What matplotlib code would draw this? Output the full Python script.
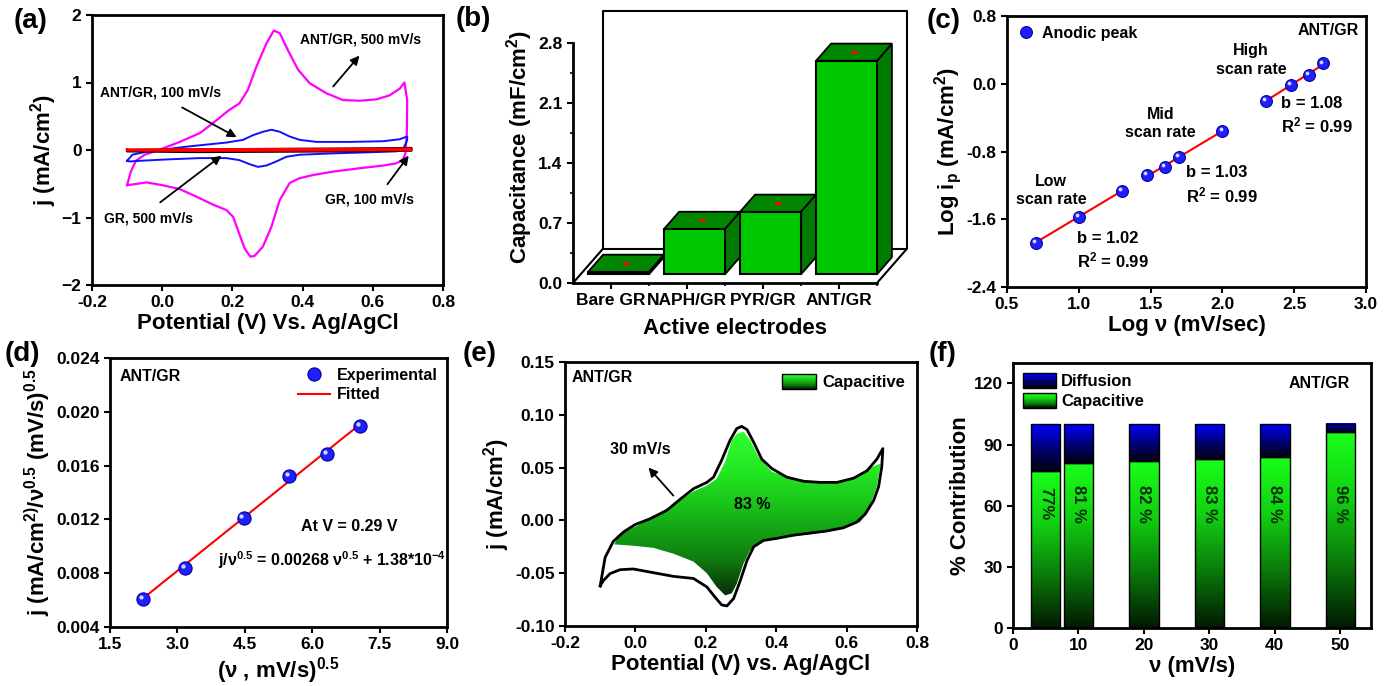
import numpy as np
import matplotlib
matplotlib.use("Agg")
import matplotlib.pyplot as plt
from matplotlib.colors import LinearSegmentedColormap
from matplotlib.patches import Polygon, Rectangle, Patch
from matplotlib.legend_handler import HandlerBase
from matplotlib.transforms import offset_copy

plt.rcParams["font.family"] = ["Liberation Sans", "DejaVu Sans"]
plt.rcParams["font.weight"] = "bold"
plt.rcParams["axes.labelweight"] = "bold"
plt.rcParams["mathtext.fontset"] = "custom"
plt.rcParams["mathtext.rm"] = "Liberation Sans:bold"
plt.rcParams["mathtext.bf"] = "Liberation Sans:bold"
plt.rcParams["mathtext.it"] = "Liberation Sans:bold:italic"
plt.rcParams["mathtext.default"] = "bf"
plt.rcParams["axes.linewidth"] = 2
for a in ("xtick", "ytick"):
    plt.rcParams[a + ".direction"] = "out"
    plt.rcParams[a + ".major.width"] = 1.5
    plt.rcParams[a + ".major.size"] = 4
    plt.rcParams[a + ".minor.width"] = 1.2
    plt.rcParams[a + ".minor.size"] = 2.5
    plt.rcParams[a + ".labelsize"] = 12.5

# ---------------- data ----------------
# (a) CV curves
V_ant500 = [-0.10, -0.09, -0.075, -0.05, 0.0, 0.05, 0.107, 0.145, 0.19, 0.22, 0.244, 0.268, 0.297,
            0.318, 0.335, 0.358, 0.387, 0.42, 0.468, 0.515, 0.563, 0.61, 0.648, 0.677, 0.69, 0.698,
            0.697, 0.693, 0.685, 0.665, 0.63, 0.563, 0.487, 0.43, 0.39, 0.363, 0.335, 0.311, 0.287,
            0.263, 0.251, 0.235, 0.216, 0.202, 0.183, 0.145, 0.097, 0.05, 0.0, -0.045, -0.083, -0.10]
j_ant500 = [-0.52, -0.33, -0.16, -0.07, 0.02, 0.12, 0.25, 0.40, 0.59, 0.69, 0.89, 1.23, 1.58,
            1.77, 1.73, 1.48, 1.19, 0.99, 0.84, 0.74, 0.73, 0.75, 0.81, 0.91, 1.00, 0.74,
            0.25, -0.05, -0.15, -0.20, -0.23, -0.27, -0.32, -0.37, -0.42, -0.49, -0.74, -1.14, -1.43,
            -1.57, -1.58, -1.46, -1.19, -0.99, -0.89, -0.81, -0.69, -0.58, -0.52, -0.48, -0.51, -0.52]
V_ant100 = [-0.10, -0.085, -0.04, 0.01, 0.07, 0.126, 0.183, 0.23, 0.259, 0.287, 0.311, 0.335, 0.363,
            0.392, 0.44, 0.535, 0.63, 0.677, 0.698, 0.698, 0.687, 0.668, 0.582, 0.487, 0.392, 0.354,
            0.325, 0.297, 0.273, 0.249, 0.22, 0.183, 0.107, 0.012, -0.064, -0.093, -0.10]
j_ant100 = [-0.16, -0.07, -0.02, 0.01, 0.05, 0.08, 0.11, 0.15, 0.22, 0.27, 0.30, 0.27, 0.20,
            0.15, 0.12, 0.12, 0.13, 0.16, 0.20, 0.15, 0.02, -0.02, -0.035, -0.05, -0.07, -0.10,
            -0.17, -0.23, -0.25, -0.21, -0.15, -0.12, -0.12, -0.14, -0.16, -0.17, -0.16]
V_gr500 = [-0.10, 0.10, 0.30, 0.50, 0.71, 0.71, 0.50, 0.30, 0.10, -0.10, -0.10]
j_gr500 = [0.00, 0.01, 0.015, 0.02, 0.03, -0.01, -0.02, -0.025, -0.03, -0.02, 0.00]
V_gr100 = [-0.10, 0.10, 0.30, 0.50, 0.71, 0.71, 0.50, 0.30, 0.10, -0.10, -0.10]
j_gr100 = [0.005, 0.01, 0.012, 0.015, 0.02, 0.0, -0.005, -0.008, -0.01, -0.005, 0.005]

# (b) capacitance
electrodes = ["Bare GR", "NAPH/GR", "PYR/GR", "ANT/GR"]
capacitance = [0.03, 0.53, 0.73, 2.49]

# (c) log ip vs log v
logv_low = [0.699, 1.0, 1.301]
logi_low = [-1.876, -1.57, -1.265]
logv_mid = [1.477, 1.602, 1.699, 2.0]
logi_mid = [-1.08, -0.98, -0.86, -0.556]
logv_high = [2.301, 2.477, 2.602, 2.699]
logi_high = [-0.20, -0.016, 0.10, 0.24]

# (d) j/v^0.5 vs v^0.5
sqrt_v = [2.236, 3.162, 4.472, 5.477, 6.325, 7.071]
j_norm = [0.00611, 0.00835, 0.01212, 0.01523, 0.01687, 0.01891]
fit_slope = 0.00268
fit_icpt = 1.38e-4

# (e) CV at 30 mV/s and capacitive part
Ve_tot = [-0.10, -0.086, -0.063, -0.034, -0.001, 0.042, 0.089, 0.127, 0.165, 0.203, 0.222, 0.245,
          0.269, 0.288, 0.302, 0.317, 0.336, 0.359, 0.388, 0.430, 0.478, 0.525, 0.573, 0.620, 0.658,
          0.686, 0.703, 0.700, 0.691, 0.677, 0.653, 0.629, 0.591, 0.544, 0.497, 0.449, 0.402, 0.364,
          0.336, 0.317, 0.298, 0.279, 0.260, 0.245, 0.227, 0.203, 0.165, 0.108, 0.051, -0.006,
          -0.044, -0.072, -0.091, -0.10]
je_tot = [-0.062, -0.035, -0.020, -0.011, -0.004, 0.0016, 0.0095, 0.020, 0.030, 0.036, 0.041, 0.057,
          0.076, 0.087, 0.089, 0.086, 0.074, 0.058, 0.049, 0.041, 0.037, 0.036, 0.036, 0.040, 0.047,
          0.058, 0.068, 0.051, 0.032, 0.019, 0.006, -0.0016, -0.007, -0.010, -0.012, -0.014, -0.017,
          -0.019, -0.025, -0.038, -0.057, -0.074, -0.081, -0.080, -0.073, -0.063, -0.055, -0.053,
          -0.0495, -0.046, -0.0467, -0.0504, -0.057, -0.062]
Vc_up = [-0.06, -0.044, -0.001, 0.042, 0.089, 0.127, 0.165, 0.203, 0.231, 0.255, 0.274, 0.288,
         0.307, 0.326, 0.35, 0.388, 0.449, 0.544, 0.62, 0.668, 0.698]
jc_up = [-0.0227, -0.0126, -0.006, 0.0016, 0.011, 0.019, 0.0275, 0.033, 0.0395, 0.0555, 0.076, 0.082,
         0.084, 0.076, 0.060, 0.046, 0.0395, 0.036, 0.0395, 0.050, 0.054]
Vc_lo = [0.697, 0.686, 0.663, 0.639, 0.544, 0.449, 0.355, 0.326, 0.307, 0.288, 0.274, 0.255, 0.231,
         0.203, 0.165, 0.108, 0.051, -0.006, -0.06]
jc_lo = [0.054, 0.032, 0.011, -0.0016, -0.011, -0.015, -0.020, -0.028, -0.041, -0.060, -0.069,
         -0.071, -0.063, -0.050, -0.039, -0.0315, -0.026, -0.024, -0.0227]

# (f) contributions
scan_rates = [5, 10, 20, 30, 40, 50]
capacitive = [77, 81, 82, 83, 84, 96]
cap_labels = ["77%", "81 %", "82 %", "83 %", "84 %", "96 %"]

# ---------------- helpers ----------------
W, H = 1396, 686
fig = plt.figure(figsize=(W / 100, H / 100), dpi=100)


def add_ax(l, t, r, b):
    return fig.add_axes([l / W, 1 - b / H, (r - l) / W, (b - t) / H])


def letter(x, y, s):
    fig.text(x / W, 1 - y / H, s, fontsize=20, fontweight="bold", va="top", ha="left")


def spheres(ax, x, y, ms, label=None):
    ax.plot(x, y, "o", ms=ms, mfc="#2020ff", mec="#0000a0", mew=0.8, ls="none", label=label, zorder=4)
    tr = offset_copy(ax.transData, fig=fig, x=-ms * 0.16, y=ms * 0.16, units="points")
    ax.plot(x, y, "o", ms=ms * 0.32, mfc="#d8d8ff", mec="none", ls="none", transform=tr, zorder=5)


green_cm = LinearSegmentedColormap.from_list("g", ["#021802", "#0a7a0a", "#12d012", "#1aff1a"])
green_e = LinearSegmentedColormap.from_list("ge", ["#072407", "#0f7f0f", "#17b517", "#22e622", "#30ff30"])
blue_cm = LinearSegmentedColormap.from_list("b", ["#000010", "#00007a", "#0000ff"])
grad = np.linspace(0, 1, 256).reshape(-1, 1)


class GradHandler(HandlerBase):
    def __init__(self, cmap):
        super().__init__()
        self.cmap = cmap

    def create_artists(self, legend, orig_handle, xdescent, ydescent, width, height, fontsize, trans):
        arts = []
        n = 16
        for k in range(n):
            arts.append(Rectangle((-xdescent, -ydescent + k * height / n), width, height / n,
                                  facecolor=self.cmap(k / (n - 1)), lw=0, transform=trans))
        arts.append(Rectangle((-xdescent, -ydescent), width, height, fill=False,
                              edgecolor="black", lw=1, transform=trans))
        return arts


# ---------------- (a) ----------------
ax = add_ax(92, 15, 443, 285)
ax.plot(V_ant500, j_ant500, color="#ff00ff", lw=1.6)
ax.plot(V_ant100, j_ant100, color="#1010ff", lw=1.4)
ax.plot(V_gr500, j_gr500, color="black", lw=1.6)
ax.plot(V_gr100, j_gr100, color="red", lw=1.8)
ax.set_xlim(-0.2, 0.8)
ax.set_ylim(-2, 2)
ax.set_xticks(np.arange(-0.2, 0.81, 0.2))
ax.set_xticklabels(["-0.2", "0.0", "0.2", "0.4", "0.6", "0.8"])
ax.set_yticks([-2, -1, 0, 1, 2])
ax.set_xlabel("Potential (V) Vs. Ag/AgCl", fontsize=16, labelpad=2)
ax.set_ylabel("j (mA/cm$^{2}$)", fontsize=16, labelpad=2)
arw = dict(arrowstyle="-|>", color="black", lw=1.3, mutation_scale=13)
ax.text(0.392, 1.64, "ANT/GR, 500 mV/s", fontsize=10, va="center")
ax.annotate("", xy=(0.567, 1.43), xytext=(0.482, 0.91), arrowprops=arw)
ax.text(-0.178, 0.85, "ANT/GR, 100 mV/s", fontsize=10, va="center")
ax.annotate("", xy=(0.219, 0.17), xytext=(0.05, 0.65), arrowprops=arw)
ax.text(-0.166, -1.01, "GR, 500 mV/s", fontsize=10, va="center")
ax.annotate("", xy=(0.175, -0.06), xytext=(-0.012, -0.80), arrowprops=arw)
ax.text(0.463, -0.74, "GR, 100 mV/s", fontsize=10, va="center")
ax.annotate("", xy=(0.707, -0.05), xytext=(0.637, -0.54), arrowprops=arw)
letter(14, 8, "(a)")

# ---------------- (b) ----------------
ax = add_ax(573, 11, 907, 283)
DX, DY = 0.395, 0.40
f0, f1 = 0.25, 0.75
bw = 0.8
xs = np.arange(len(electrodes))
top_y = 3.17
ax.set_xlim(-0.5, 3.5 + DX)
ax.set_ylim(0, top_y)
# floor and back wall
ax.plot([-0.5, -0.5 + DX, -0.5 + DX, 3.5 + DX, 3.5 + DX, 3.5],
        [0, DY, top_y, top_y, DY, 0], color="black", lw=1.5, clip_on=False, zorder=1)
ax.plot([-0.5 + DX, 3.5 + DX], [DY, DY], color="black", lw=1.5, zorder=1)
for i, v in zip(xs, capacitance):
    x0 = i - bw / 2
    x1 = i + bw / 2
    side = [(x1 + f0 * DX, f0 * DY), (x1 + f1 * DX, f1 * DY), (x1 + f1 * DX, f1 * DY + v),
            (x1 + f0 * DX, f0 * DY + v)]
    ax.add_patch(Polygon(side, closed=True, facecolor="#007a00", edgecolor="black", lw=1.3, zorder=2))
    top = [(x0 + f0 * DX, f0 * DY + v), (x1 + f0 * DX, f0 * DY + v), (x1 + f1 * DX, f1 * DY + v),
           (x0 + f1 * DX, f1 * DY + v)]
    ax.add_patch(Polygon(top, closed=True, facecolor="#008600", edgecolor="black", lw=1.3, zorder=2))
ax.bar(xs + f0 * DX, capacitance, width=bw, bottom=f0 * DY, color="#00c800",
       edgecolor="black", lw=1.5, zorder=3)
ax.plot(xs + 0.5 * DX, np.array(capacitance) + 0.5 * DY, ls="none", marker="_", ms=5, mew=2,
        color="red", zorder=4)
ax.spines["top"].set_visible(False)
ax.spines["right"].set_visible(False)
ax.spines["bottom"].set_bounds(-0.5, 3.5)
ax.spines["left"].set_bounds(0, 2.8)
ax.set_yticks([0, 0.7, 1.4, 2.1, 2.8])
ax.set_yticklabels(["0.0", "0.7", "1.4", "2.1", "2.8"])
ax.set_yticks(np.arange(0.35, 2.8, 0.7), minor=True)
ax.set_xticks(xs)
ax.set_xticklabels(electrodes, fontsize=12.5)
ax.set_xticks([0.5, 1.5, 2.5, 3.5], minor=True)
ax.set_ylabel("Capacitance (mF/cm$^{2}$)", fontsize=16, labelpad=2)
ax.set_xlabel("Active electrodes", fontsize=16, labelpad=2)
ax.xaxis.set_label_coords(0.485, -0.13)
letter(456, 6, "(b)")

# ---------------- (c) ----------------
ax = add_ax(1007, 16, 1366, 287)
for lx, ly in ((logv_low, logi_low), (logv_mid, logi_mid), (logv_high, logi_high)):
    p = np.polyfit(lx, ly, 1)
    xx = np.array([lx[0], lx[-1]])
    ax.plot(xx, np.polyval(p, xx), color="red", lw=1.5, zorder=3)
spheres(ax, logv_low + logv_mid + logv_high, logi_low + logi_mid + logi_high, 8.5, "Anodic peak")
ax.set_xlim(0.5, 3.0)
ax.set_ylim(-2.4, 0.8)
ax.set_xticks(np.arange(0.5, 3.01, 0.5))
ax.set_xticklabels(["0.5", "1.0", "1.5", "2.0", "2.5", "3.0"])
ax.set_yticks([-2.4, -1.6, -0.8, 0.0, 0.8])
ax.set_yticklabels(["-2.4", "-1.6", "-0.8", "0.0", "0.8"])
ax.set_xlabel("Log ν (mV/sec)", fontsize=16, labelpad=2)
ax.set_ylabel("Log i$_{p}$ (mA/cm$^{2}$)", fontsize=16, labelpad=2)
ax.legend(loc="upper left", frameon=False, fontsize=11.5, handletextpad=0.4, borderaxespad=0.2,
          handlelength=1.2)
ax.text(2.95, 0.634, "ANT/GR", fontsize=11.5, ha="right", va="center")
ax.text(2.2, 0.28, "High\nscan rate", fontsize=11.5, ha="center", va="center", linespacing=1.3)
ax.text(2.41, -0.376, "b = 1.08\nR$^{2}$ = 0.99", fontsize=12, ha="left", va="center", linespacing=1.3)
ax.text(1.567, -0.468, "Mid\nscan rate", fontsize=11.5, ha="center", va="center", linespacing=1.3)
ax.text(1.745, -1.195, "b = 1.03\nR$^{2}$ = 0.99", fontsize=12, ha="left", va="center", linespacing=1.3)
ax.text(0.806, -1.26, "Low\nscan rate", fontsize=11.5, ha="center", va="center", linespacing=1.3)
ax.text(0.987, -1.97, "b = 1.02\nR$^{2}$ = 0.99", fontsize=12, ha="left", va="center", linespacing=1.3)
letter(927, 8, "(c)")

# ---------------- (d) ----------------
ax = add_ax(110, 358, 447, 627)
xx = np.array([sqrt_v[0], sqrt_v[-1]])
ax.plot(xx, fit_slope * xx + fit_icpt, color="red", lw=1.5, zorder=3, label="Fitted")
spheres(ax, sqrt_v, j_norm, 9.5, "Experimental")
ax.set_xlim(1.5, 9.0)
ax.set_ylim(0.004, 0.024)
ax.set_xticks(np.arange(1.5, 9.01, 1.5))
ax.set_xticklabels(["1.5", "3.0", "4.5", "6.0", "7.5", "9.0"])
ax.set_yticks(np.arange(0.004, 0.0241, 0.004))
ax.set_yticklabels(["0.004", "0.008", "0.012", "0.016", "0.020", "0.024"])
ax.set_xlabel("(ν , mV/s)$^{0.5}$", fontsize=16, labelpad=2)
ax.set_ylabel("j (mA/cm$^{2)}$/ν$^{0.5}$ (mV/s)$^{0.5}$", fontsize=16, labelpad=2)
h, l = ax.get_legend_handles_labels()
ax.legend([h[1], h[0]], [l[1], l[0]], loc="upper right", frameon=False, fontsize=11.5,
          handletextpad=0.4, borderaxespad=0.2, handlelength=2.0, labelspacing=0.3)
ax.text(1.72, 0.02263, "ANT/GR", fontsize=11.5, ha="left", va="center")
ax.text(6.82, 0.01145, "At V = 0.29 V", fontsize=11.5, ha="center", va="center")
ax.text(6.44, 0.00897, "j/ν$^{0.5}$ = 0.00268 ν$^{0.5}$ + 1.38*10$^{-4}$", fontsize=11.5,
        ha="center", va="center")
letter(5, 341, "(d)")

# ---------------- (e) ----------------
ax = add_ax(565, 362, 917, 626)
poly = Polygon(np.column_stack([Vc_up + Vc_lo, jc_up + jc_lo]), closed=True, facecolor="none",
               edgecolor="none")
ax.add_patch(poly)
im = ax.imshow(grad, extent=[-0.07, 0.71, -0.075, 0.085], origin="lower", aspect="auto",
               cmap=green_e, zorder=2)
im.set_clip_path(poly)
ax.plot(Ve_tot, je_tot, color="black", lw=2, zorder=3)
ax.set_xlim(-0.2, 0.8)
ax.set_ylim(-0.10, 0.15)
ax.set_xticks(np.arange(-0.2, 0.81, 0.2))
ax.set_xticklabels(["-0.2", "0.0", "0.2", "0.4", "0.6", "0.8"])
ax.set_yticks(np.arange(-0.10, 0.151, 0.05))
ax.set_yticklabels(["-0.10", "-0.05", "0.00", "0.05", "0.10", "0.15"])
ax.set_xlabel("Potential (V) vs. Ag/AgCl", fontsize=16, labelpad=2)
ax.set_ylabel("j (mA/cm$^{2}$)", fontsize=16, labelpad=2)
ax.annotate("", xy=(0.032, 0.052), xytext=(0.113, 0.0215), arrowprops=arw)
ax.text(0.013, 0.067, "30 mV/s", fontsize=11.5, ha="center", va="center")
ax.text(0.331, 0.015, "83 %", fontsize=11.5, ha="center", va="center")
ax.text(-0.181, 0.135, "ANT/GR", fontsize=11.5, ha="left", va="center")
cap_patch = Patch(label="Capacitive")
ax.legend(handles=[cap_patch], loc="upper right", frameon=False, fontsize=12,
          handler_map={cap_patch: GradHandler(green_e)}, handlelength=2.0, handleheight=1.0,
          handletextpad=0.4, borderaxespad=0.3)
letter(463, 341, "(e)")

# ---------------- (f) ----------------
ax = add_ax(1013, 363, 1371, 628)
bwf = 4.5
for x, c in zip(scan_rates, capacitive):
    ax.imshow(grad, extent=[x - bwf / 2, x + bwf / 2, 0, c], origin="lower", aspect="auto",
              cmap=green_cm, zorder=2)
    ax.imshow(grad, extent=[x - bwf / 2, x + bwf / 2, c, 100], origin="lower", aspect="auto",
              cmap=blue_cm, zorder=2)
ax.bar(scan_rates, capacitive, width=bwf, fill=False, edgecolor="black", lw=1, zorder=3)
ax.bar(scan_rates, [100 - c for c in capacitive], bottom=capacitive, width=bwf, fill=False,
       edgecolor="black", lw=1, zorder=3)
for x, s in zip(scan_rates, cap_labels):
    ax.text(x, 61, s, rotation=-90, ha="center", va="center", fontsize=12, color="#0a2f0a", zorder=4)
ax.set_xlim(0, 54.7)
ax.set_ylim(0, 130)
ax.set_xticks(np.arange(0, 51, 10))
ax.set_yticks(np.arange(0, 121, 30))
ax.set_xlabel("ν (mV/s)", fontsize=16, labelpad=2)
ax.set_ylabel("% Contribution", fontsize=16, labelpad=2)
dif_patch = Patch(label="Diffusion")
cap2_patch = Patch(label="Capacitive")
ax.legend(handles=[dif_patch, cap2_patch], loc="upper left", frameon=False, fontsize=12,
          handler_map={dif_patch: GradHandler(blue_cm), cap2_patch: GradHandler(green_cm)},
          handlelength=2.0, handleheight=1.0, handletextpad=0.3, borderaxespad=0.2,
          labelspacing=0.25)
ax.text(51.5, 120, "ANT/GR", fontsize=11.5, ha="right", va="center")
letter(929, 341, "(f)")

fig.savefig("out.png", dpi=100)
